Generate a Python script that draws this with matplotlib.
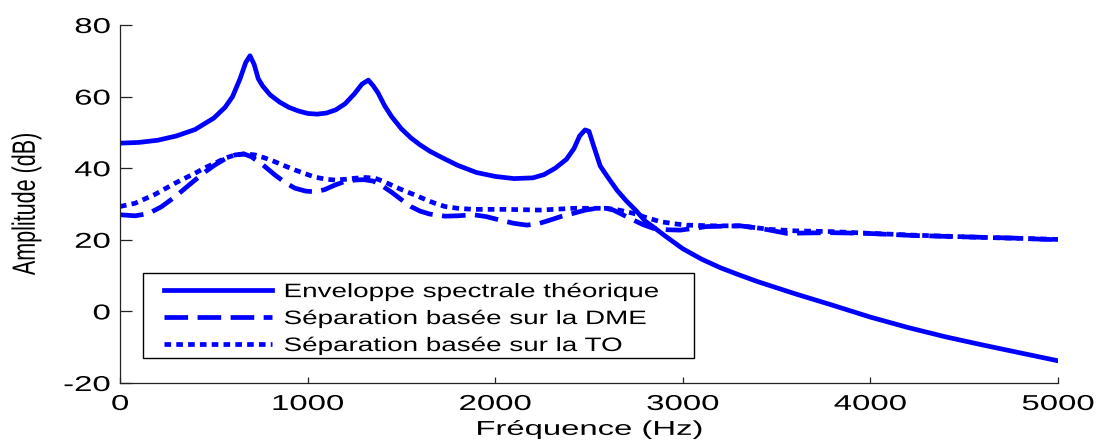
import matplotlib
matplotlib.use("Agg")
import matplotlib.pyplot as plt
from matplotlib.patheffects import AbstractPathEffect
from matplotlib.transforms import Affine2D
from matplotlib.patches import Rectangle

# ---- data ---------------------------------------------------------------
freq_env = [0, 100, 200, 300, 400, 500, 560, 600, 640, 670, 693, 715, 737,
            760, 800, 850, 900, 950, 1000, 1050, 1100, 1150, 1200, 1250,
            1290, 1324, 1350, 1376, 1410, 1448, 1500, 1550, 1600, 1650, 1700,
            1800, 1900, 2000, 2100, 2200, 2260, 2320, 2380, 2420, 2450, 2479,
            2500, 2523, 2560, 2600, 2650, 2700, 2750, 2800, 2850, 2900, 3000,
            3100, 3200, 3300, 3400, 3500, 3600, 3800, 4000, 4200, 4400, 4600,
            4800, 5000]
env_db = [47, 47.2, 47.8, 49, 50.8, 54, 57, 60, 65, 69.5, 71.4, 69, 65,
          63, 60.5, 58.5, 57, 56, 55.3, 55.1, 55.4, 56.3, 58, 60.8,
          63.5, 64.6, 63, 61, 57.5, 54.4, 51, 48.5, 46.5, 44.8, 43.4,
          40.8, 38.8, 37.7, 37.1, 37.3, 38.2, 40, 42.5, 45.5, 49, 50.7,
          50.3, 46.5, 40.6, 37.5, 33.8, 30.8, 28.2, 25.2, 23.3, 21.3, 17.5,
          14.6, 12.2, 10.2, 8.3, 6.6, 4.9, 1.7, -1.6, -4.5, -7.1, -9.4,
          -11.6, -13.8]

freq_dme = [0, 80, 150, 220, 293, 350, 400, 460, 506, 560, 613, 660, 700,
            760, 826, 880, 933, 990, 1040, 1090, 1146, 1200, 1253, 1300, 1350,
            1400, 1450, 1500, 1550, 1600, 1650, 1732, 1800, 1883, 1950, 2026,
            2100, 2168, 2230, 2292, 2350, 2417, 2480, 2541, 2590, 2630, 2680,
            2737, 2790, 2843, 2920, 2985, 3060, 3127, 3305, 3400, 3465, 3554,
            3650, 3785, 3980, 4229, 4513, 4750, 5000]
dme_db = [27, 26.7, 27.3, 29.2, 32, 34.5, 36.7, 39.2, 40.9, 42.6, 43.7, 44,
          43.2, 41, 38.1, 36, 34.4, 33.6, 33.4, 34, 35.3, 36.3, 36.7, 36.8,
          36.4, 35, 33.2, 31.2, 29.3, 28, 27.2, 26.6, 26.7, 27, 26.5, 25.5,
          24.6, 24.1, 24.5, 25.5, 26.5, 27.4, 28.3, 28.8, 28.8, 28.3, 27,
          25.5, 24.2, 23.2, 22.8, 22.7, 23.2, 23.7, 23.9, 23.3, 22.7, 21.8,
          21.9, 22.0, 21.8, 21.2, 20.8, 20.5, 20]

freq_to = [0, 80, 187, 293, 350, 400, 460, 506, 560, 613, 670, 720, 770, 826,
           880, 933, 990, 1040, 1100, 1146, 1200, 1253, 1310, 1360, 1410,
           1466, 1520, 1573, 1630, 1679, 1732, 1800, 1883, 2061, 2239, 2417,
           2594, 2660, 2736, 2800, 2878, 2950, 3020, 3163, 3305, 3465, 3600,
           3785, 4000, 4229, 4584, 5000]
to_db = [29.3, 30.2, 32.7, 35.8, 37.3, 38.6, 40.3, 41.4, 42.8, 43.7, 44,
         43.7, 42.9, 41.8, 40.6, 39.5, 38.4, 37.5, 36.9, 36.7, 36.9, 37.2,
         37.4, 37.2, 36.2, 34.8, 33.6, 32.5, 31.2, 30.2, 29.3, 28.8, 28.5,
         28.5, 28.3, 28.8, 28.8, 28.3, 27.4, 26.3, 25.1, 24.5, 24.1, 23.9,
         23.9, 22.9, 22.5, 22.3, 21.8, 21.3, 20.7, 20.1]

series_labels = ["Enveloppe spectrale théorique",
                 "Séparation basée sur la DME",
                 "Séparation basée sur la TO"]

x_ticks = [0, 1000, 2000, 3000, 4000, 5000]
x_tick_labels = ["0", "1000", "2000", "3000", "4000", "5000"]
y_ticks = [-20, 0, 20, 40, 60, 80]
y_tick_labels = ["-20", "0", "20", "40", "60", "80"]


class WideText(AbstractPathEffect):
    """Draw text glyphs stretched horizontally about a pivot."""

    def __init__(self, sx, pivot="center"):
        super().__init__()
        self.sx = sx
        self.pivot = pivot

    def draw_path(self, renderer, gc, tpath, affine, rgbFace=None):
        xs = affine.transform(tpath.vertices)[:, 0]
        if self.pivot == "left":
            px = xs.min()
        elif self.pivot == "right":
            px = xs.max()
        else:
            px = 0.5 * (xs.min() + xs.max())
        stretch = Affine2D().translate(-px, 0).scale(self.sx, 1).translate(px, 0)
        renderer.draw_path(gc, tpath, affine + stretch, rgbFace)


plt.rcParams["font.family"] = ["Liberation Sans", "DejaVu Sans"]

W, H = 1102, 441
fig = plt.figure(figsize=(W / 100, H / 100), dpi=100)
ax = fig.add_axes([120 / W, (H - 383) / H, 938 / W, 358 / H])

blue = "#0000FF"
lw = 3.4
ax.plot(freq_env, env_db, color=blue, lw=lw, solid_joinstyle="round",
        label=series_labels[0])
ax.plot(freq_dme, dme_db, color=blue, lw=lw, dashes=(5.0, 2.0),
        dash_capstyle="butt", label=series_labels[1])
ax.plot(freq_to, to_db, color=blue, lw=lw, dashes=(1.4, 1.1),
        dash_capstyle="butt", label=series_labels[2])

ax.set_xlim(0, 5000)
ax.set_ylim(-20, 80)
ax.set_xticks(x_ticks, x_tick_labels)
ax.set_yticks(y_ticks, y_tick_labels)

for side in ("top", "right"):
    ax.spines[side].set_visible(False)
for side in ("left", "bottom"):
    ax.spines[side].set_linewidth(0.9)
    ax.spines[side].set_color("#222222")

ax.tick_params(axis="both", direction="in", width=0.9, color="#222222",
               labelsize=15.5, labelcolor="black")
ax.tick_params(axis="x", length=4.3, pad=7.9)
ax.tick_params(axis="y", length=8.6, pad=6.8)

for lbl in ax.get_xticklabels():
    lbl.set_path_effects([WideText(1.53, "center")])
for lbl in ax.get_yticklabels():
    lbl.set_path_effects([WideText(1.53, "right")])

ax.set_xlabel("Fréquence (Hz)", fontsize=14.5)
ax.xaxis.set_label_coords(0.5, -0.103)
ax.xaxis.label.set_path_effects([WideText(1.63, "center")])

ax.set_ylabel("Amplitude (dB)", fontsize=15.5)
ax.yaxis.set_label_coords((37 - 120) / 938, 0.5)
ax.yaxis.label.set_path_effects([WideText(1.5, "center")])

leg = ax.legend(loc="upper left", bbox_to_anchor=(164 / W, (H - 283.5) / H),
                bbox_transform=fig.transFigure, frameon=False, fontsize=14,
                borderaxespad=0, borderpad=0, handlelength=5.56,
                handletextpad=0.59, labelspacing=0.48)
for txt in leg.get_texts():
    txt.set_path_effects([WideText(1.43, "left")])

fig.patches.append(Rectangle((143 / W, (H - 358) / H), (694 - 143) / W,
                             (358 - 273) / H, transform=fig.transFigure,
                             fill=False, edgecolor="black", linewidth=1.0))

fig.savefig("out.png", dpi=100)
